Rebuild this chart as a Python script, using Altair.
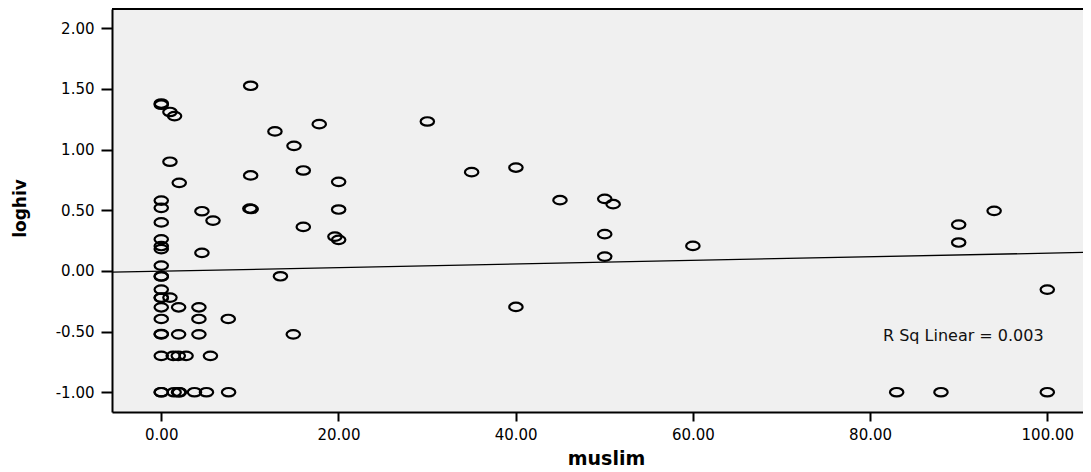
import altair as alt
import pandas as pd

# muslim (%) values
muslim = [
    0, 0, 0, 0, 0, 0, 0, 0, 0, 0, 0, 0, 0, 0, 0, 0, 0, 0, 0, 0, 0,
    0.98, 1.5, 0.98, 2.03, 0.98, 1.96, 4.25, 4.25, 7.56, 1.96, 4.25,
    1.35, 1.92, 2.8, 5.55, 1.45, 1.95, 2.05, 3.75, 5.1, 7.6,
    4.59, 5.84, 4.59,
    10.09, 10.09, 10.0, 10.15,
    12.83, 14.98, 17.83, 16.03, 16.03, 20.02, 20.02, 19.6, 20.02, 13.45, 14.9,
    30.03, 35.03, 40.03, 45.0, 50.05, 51.0, 50.05, 50.05, 60.0, 40.03,
    94.0, 90.0, 90.0, 100.0, 83.0, 88.0, 100.0,
]
# loghiv values
loghiv = [
    1.38, 1.37, 0.58, 0.52, 0.40, 0.26, 0.205, 0.18, 0.044, -0.044, -0.046,
    -0.154, -0.22, -0.222, -0.30, -0.396, -0.52, -0.523, -0.70, -1.0, -1.0,
    1.31, 1.276, 0.90, 0.726, -0.22, -0.30, -0.30, -0.396, -0.396, -0.523, -0.523,
    -0.70, -0.70, -0.70, -0.70, -1.0, -1.0, -1.0, -1.0, -1.0, -1.0,
    0.492, 0.415, 0.149,
    1.526, 0.787, 0.514, 0.51,
    1.15, 1.031, 1.21, 0.828, 0.363, 0.734, 0.506, 0.283, 0.256, -0.044, -0.523,
    1.232, 0.814, 0.852, 0.583, 0.594, 0.55, 0.303, 0.118, 0.206, -0.297,
    0.495, 0.382, 0.234, -0.154, -1.0, -1.0, -1.0,
]

# fit line end points
fit_x = [-5.56, 104.03]
fit_y = [-0.0107, 0.1525]

x_ticks = [0, 20, 40, 60, 80, 100]
y_ticks = [-1.0, -0.5, 0.0, 0.5, 1.0, 1.5, 2.0]

annot_text = ["R Sq Linear = 0.003"]
annot_x = [81.45]
annot_y = [-0.536]

W, H = 971, 403
XDOM = [-5.56, 104.03]
YDOM = [-1.163, 2.159]

pts = pd.DataFrame({"muslim": muslim, "loghiv": loghiv})
fit = pd.DataFrame({"muslim": fit_x, "loghiv": fit_y})
ann = pd.DataFrame({"muslim": annot_x, "loghiv": annot_y, "t": annot_text})

ellipse = ("M -1 0 C -1 -0.348 -0.552 -0.63 0 -0.63 C 0.552 -0.63 1 -0.348 1 0 "
           "C 1 0.348 0.552 0.63 0 0.63 C -0.552 0.63 -1 0.348 -1 0 Z")

fmt_expr = "(datum.value < 0 ? '-' : '') + format(abs(datum.value), '.2f')"

xenc = alt.X(
    "muslim:Q",
    scale=alt.Scale(domain=XDOM, nice=False, zero=False),
    axis=alt.Axis(
        values=x_ticks, labelExpr=fmt_expr, grid=False,
        title="muslim", titleFont="DejaVu Sans", titleFontSize=19,
        titleFontWeight="bold", titleColor="black",
        titleX=494, titleY=46, titleBaseline="middle", titleAlign="center",
        labelFont="DejaVu Sans", labelFontSize=15, labelColor="black",
        labelBaseline="middle", labelPadding=13,
        tickSize=9, tickWidth=2, tickColor="black",
        domainColor="black", domainWidth=2,
    ),
)
yenc = alt.Y(
    "loghiv:Q",
    scale=alt.Scale(domain=YDOM, nice=False, zero=False),
    axis=alt.Axis(
        values=y_ticks, labelExpr=fmt_expr, grid=False,
        title="loghiv", titleFont="DejaVu Sans", titleFontSize=17,
        titleFontWeight="bold", titleColor="black",
        titleX=-92, titleY=199, titleAngle=270,
        titleBaseline="middle", titleAlign="center",
        labelFont="DejaVu Sans", labelFontSize=15, labelColor="black",
        labelPadding=7,
        tickSize=11, tickWidth=2, tickColor="black",
        domainColor="black", domainWidth=2,
    ),
)

points = alt.Chart(pts).mark_point(
    shape=ellipse, size=180, filled=False, stroke="black",
    strokeWidth=2.2, opacity=1,
).encode(x=xenc, y=yenc)

line = alt.Chart(fit).mark_line(color="black", strokeWidth=1.3).encode(
    x=alt.X("muslim:Q"), y=alt.Y("loghiv:Q")
)

text = alt.Chart(ann).mark_text(
    align="left", baseline="middle", font="DejaVu Sans", fontSize=16, color="#111111"
).encode(x="muslim:Q", y="loghiv:Q", text="t:N")

top = alt.Chart(pts).mark_rule(color="black", strokeWidth=1).encode(
    x=alt.value(0), x2=alt.value(W), y=alt.value(0)
)

chart = alt.layer(line, points, text, top).properties(
    width=W, height=H,
    autosize=alt.AutoSizeParams(type="none"),
    padding={"left": 104, "top": 1, "right": 0, "bottom": 56},
    background="white",
).configure_view(fill="#f0f0f0", strokeWidth=0)

chart.save("out.html", embed_options={"renderer": "svg", "actions": False})
